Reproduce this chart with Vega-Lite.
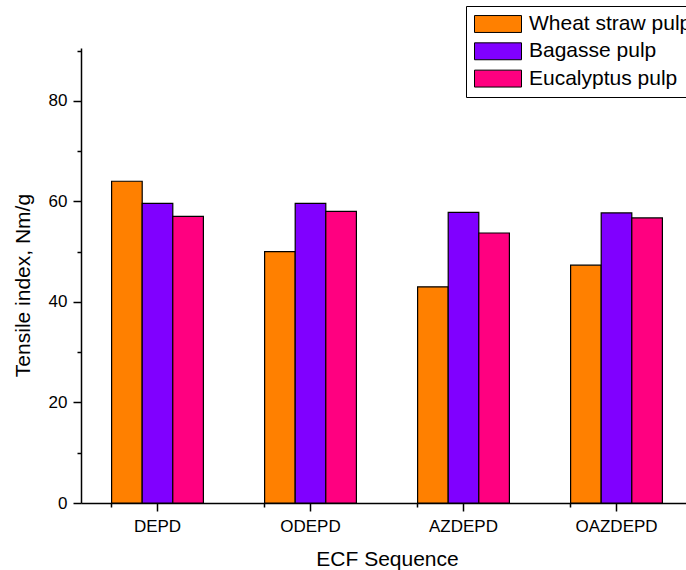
{
  "$schema": "https://vega.github.io/schema/vega-lite/v6.json",
  "width": 605,
  "height": 455,
  "autosize": {"type": "none"},
  "padding": {"left": 81, "top": 48, "right": 0, "bottom": 67},
  "config": {
    "view": {"stroke": null},
    "font": "Liberation Sans",
    "axis": {
      "domainColor": "black", "tickColor": "black", "labelColor": "black", "titleColor": "black",
      "domainWidth": 1.5, "tickWidth": 1.5, "grid": false,
      "labelFont": "Liberation Sans", "titleFont": "Liberation Sans",
      "labelFontSize": 17, "titleFontSize": 21, "titleFontWeight": "normal"
    }
  },
  "data": {
    "values": [
      {"seq": "DEPD", "pulp": "Wheat straw pulp", "value": 64.0},
      {"seq": "DEPD", "pulp": "Bagasse pulp", "value": 59.6},
      {"seq": "DEPD", "pulp": "Eucalyptus pulp", "value": 57.0},
      {"seq": "ODEPD", "pulp": "Wheat straw pulp", "value": 50.0},
      {"seq": "ODEPD", "pulp": "Bagasse pulp", "value": 59.6},
      {"seq": "ODEPD", "pulp": "Eucalyptus pulp", "value": 58.0},
      {"seq": "AZDEPD", "pulp": "Wheat straw pulp", "value": 43.0},
      {"seq": "AZDEPD", "pulp": "Bagasse pulp", "value": 57.8},
      {"seq": "AZDEPD", "pulp": "Eucalyptus pulp", "value": 53.7},
      {"seq": "OAZDEPD", "pulp": "Wheat straw pulp", "value": 47.3},
      {"seq": "OAZDEPD", "pulp": "Bagasse pulp", "value": 57.7},
      {"seq": "OAZDEPD", "pulp": "Eucalyptus pulp", "value": 56.7}
    ]
  },
  "encoding": {
    "y": {
      "field": "value", "type": "quantitative",
      "scale": {"domain": [0, 90.5], "nice": false},
      "axis": {
        "orient": "left",
        "values": [0, 10, 20, 30, 40, 50, 60, 70, 80, 90],
        "labelExpr": "datum.value % 20 === 0 ? datum.label : ''",
        "tickSize": {"condition": {"test": "datum.value % 20 === 0", "value": 8}, "value": 4},
        "labelPadding": 6,
        "title": "Tensile index, Nm/g",
        "titleX": -52, "titleY": 237, "titleAngle": 270,
        "titleBaseline": "alphabetic", "titleAlign": "center"
      }
    },
    "color": {
      "field": "pulp", "type": "nominal",
      "scale": {"domain": ["Wheat straw pulp", "Bagasse pulp", "Eucalyptus pulp"], "range": ["#FF8000", "#8000FF", "#FF0080"]},
      "legend": {
        "title": null, "orient": "none", "legendX": 385, "legendY": -42,
        "symbolType": "M-1,-0.36H1V0.36H-1Z", "symbolSize": 2209,
        "symbolStrokeColor": "black", "symbolStrokeWidth": 1, "symbolOpacity": 1,
        "labelFontSize": 21, "labelFont": "Liberation Sans", "labelColor": "black",
        "strokeColor": "black", "fillColor": "white",
        "padding": 8, "clipHeight": 20, "rowPadding": 6.3, "labelOffset": 7, "labelLimit": 0
      }
    }
  },
  "layer": [
    {
      "mark": {"type": "bar", "stroke": "black", "strokeWidth": 1.2},
      "encoding": {
        "x": {
          "field": "seq", "type": "nominal",
          "sort": ["DEPD", "ODEPD", "AZDEPD", "OAZDEPD"],
          "scale": {"range": [0, 612], "paddingInner": 0.4, "paddingOuter": 0.2},
          "axis": {
            "orient": "bottom", "labelAngle": 0, "tickSize": 8,
            "labelPadding": 20, "labelBaseline": "alphabetic",
            "title": "ECF Sequence", "titleX": 306, "titleY": 62,
            "titleBaseline": "alphabetic", "titleAlign": "center"
          }
        },
        "xOffset": {"field": "pulp", "sort": ["Wheat straw pulp", "Bagasse pulp", "Eucalyptus pulp"]}
      }
    },
    {
      "mark": {"type": "bar", "opacity": 0},
      "encoding": {
        "x": {
          "field": "seq", "type": "nominal",
          "sort": ["DEPD", "ODEPD", "AZDEPD", "OAZDEPD"],
          "axis": {
            "orient": "bottom", "bandPosition": 0, "tickSize": 4,
            "labels": false, "domain": false, "title": null
          }
        }
      }
    }
  ],
  "resolve": {"axis": {"x": "independent"}}
}
